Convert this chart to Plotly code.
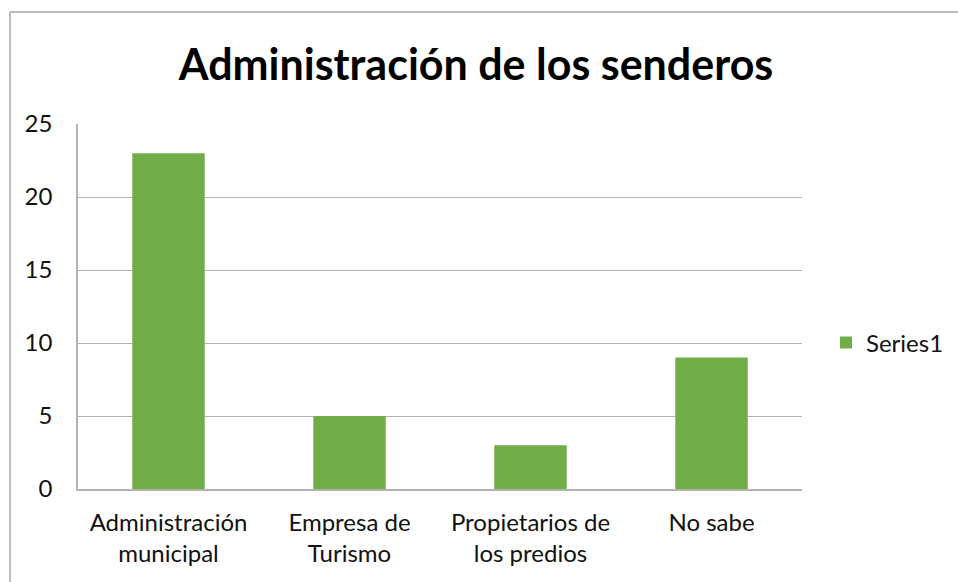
import plotly.graph_objects as go

categories = ["Administración<br>municipal", "Empresa de<br>Turismo", "Propietarios de<br>los predios", "No sabe"]
values = [23, 5, 3, 9]
series_name = "Series1"
y_ticks = [0, 5, 10, 15, 20, 25]

FONT = "Lato, 'Open Sans', sans-serif"

W, H = 958, 582

# plot area in pixels: left 78, right 802, top 124, bottom 489
L, R, T, B = 78, 802, 124, 489


def px_x(p):
    return (p - L) / (R - L)


def px_y(p):
    return (B - p) / (B - T)


fig = go.Figure()

fig.add_trace(
    go.Bar(
        x=categories,
        y=values,
        name=series_name,
        marker=dict(color="#70AD47", line=dict(width=0)),
        width=0.4,
        showlegend=True
    )
)

# outer chart border (only top and left visible in the crop)
fig.add_shape(type="line", xref="paper", yref="paper",
              x0=px_x(10), x1=px_x(990), y0=px_y(12), y1=px_y(12),
              line=dict(color="#a6a6a6", width=1.5))
fig.add_shape(type="line", xref="paper", yref="paper",
              x0=px_x(10), x1=px_x(10), y0=px_y(12), y1=px_y(620),
              line=dict(color="#a6a6a6", width=1.5))

fig.update_layout(
    width=W,
    height=H,
    paper_bgcolor="white",
    plot_bgcolor="white",
    margin=dict(l=L, r=W - R, t=T, b=H - B, autoexpand=False),
    font=dict(family=FONT, color="#111111", size=24),
    title=dict(
        text="<b>Administración de los senderos</b>",
        x=476 / W,
        xanchor="center",
        xref="container",
        y=1 - 65 / H,
        yanchor="middle",
        font=dict(family=FONT, size=43, color="black")
    ),
    xaxis=dict(
        showgrid=False,
        showline=True,
        linecolor="#b3b3b3",
        linewidth=1.5,
        ticks="",
        ticklabelstandoff=11,
        tickfont=dict(size=24)
    ),
    yaxis=dict(
        range=[0, 25],
        tickvals=y_ticks,
        showgrid=True,
        gridcolor="#b3b3b3",
        gridwidth=1,
        showline=True,
        linecolor="#b3b3b3",
        linewidth=1.5,
        zeroline=False,
        ticks="",
        ticklabelstandoff=19,
        tickfont=dict(size=24)
    ),
    legend=dict(
        x=px_x(826),
        y=px_y(343),
        xanchor="left",
        yanchor="middle",
        font=dict(size=24),
        bgcolor="rgba(0,0,0,0)"
    ),
    bargap=0.6
)

# drop the default page margin so the figure sits at the window corner
fig.write_html(
    "out.html",
    config={"displayModeBar": False},
    post_script="document.body.style.margin='0';"
)
